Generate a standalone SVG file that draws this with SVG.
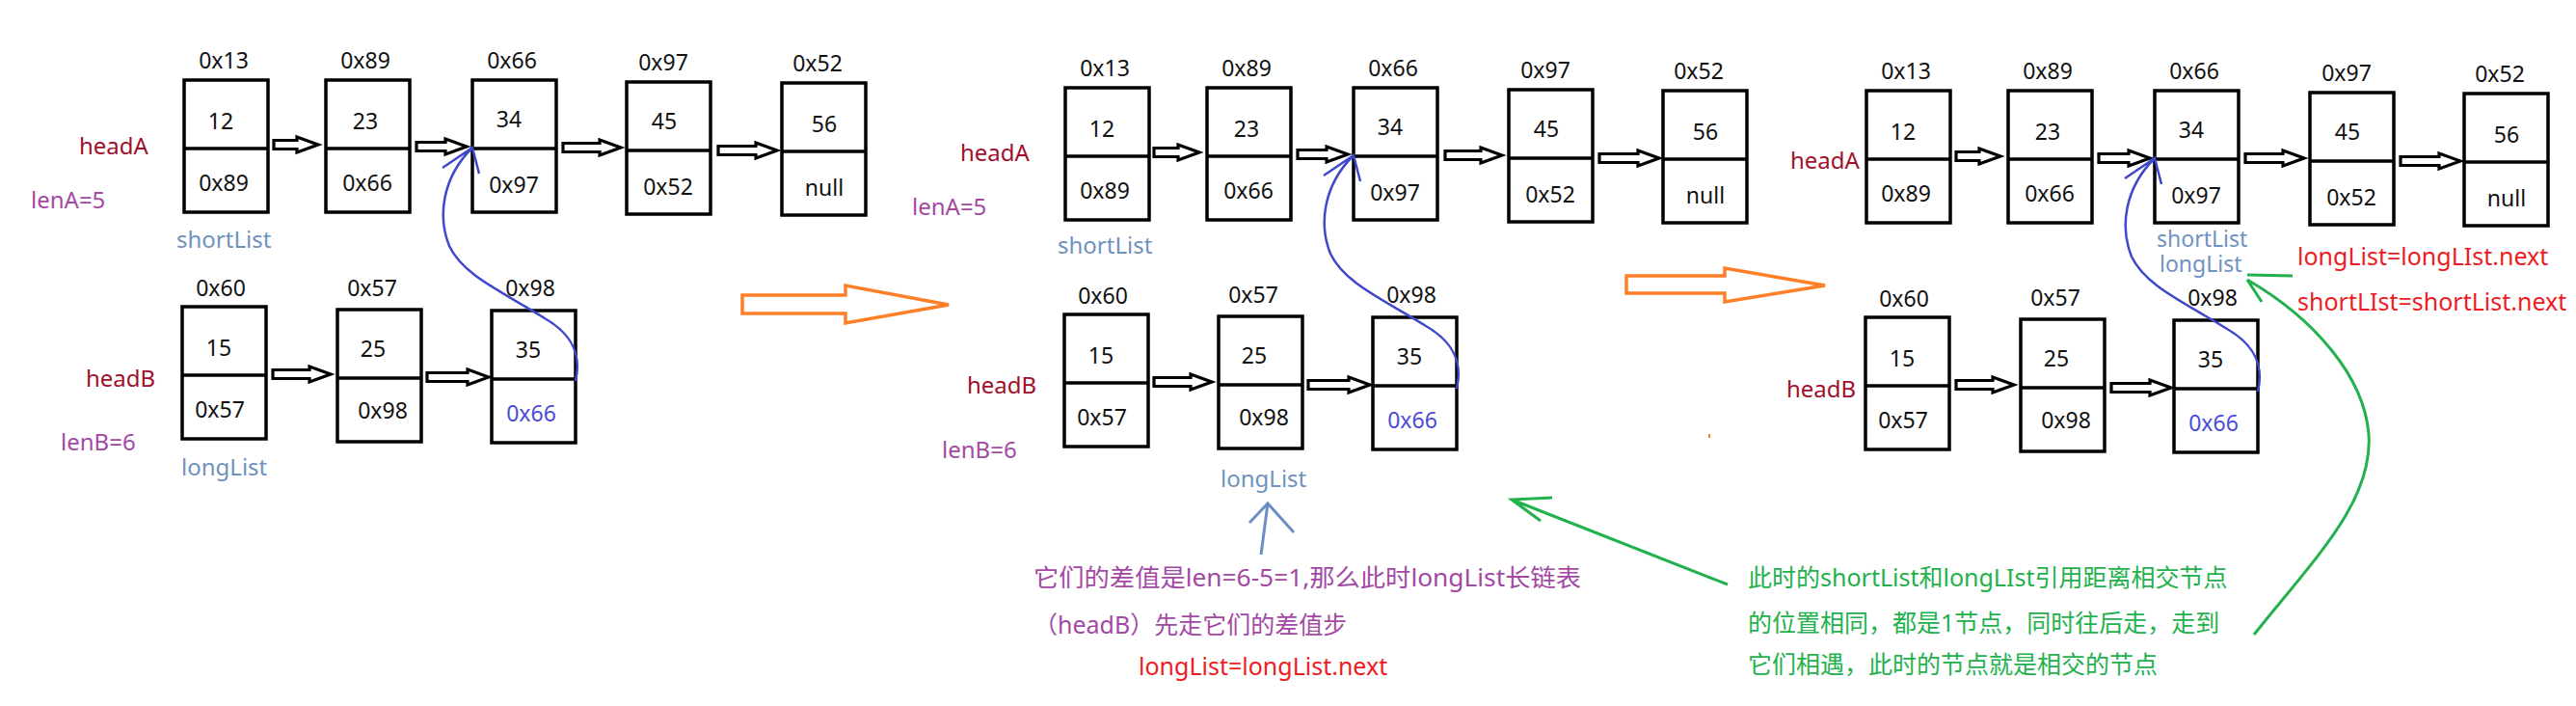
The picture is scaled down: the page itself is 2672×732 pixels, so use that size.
<svg xmlns="http://www.w3.org/2000/svg" width="2672" height="732" viewBox="0 0 2672 732">
<style>
text{font-family:"Noto Sans","Noto Sans CJK SC",sans-serif;font-size:23px;fill:#111}
.c{text-anchor:middle}
.box{fill:#fff;stroke:#000;stroke-width:3.5}
.ha{fill:#fff;stroke:#000;stroke-width:3.2}
.head{fill:#A0102A;font-size:24px}
.len{fill:#A349A4;font-size:24px}
.ptr{fill:#7092BE;font-size:24px}
.ptr2{fill:#7092BE;font-size:23px}
.blue{fill:#4B4BD8}
.red{fill:#ED1C24;font-size:25px}
.pur{fill:#A349A4;font-size:25px}
.grn{fill:#22B14C;font-size:25px}
.bc{fill:none;stroke:#3F48CC;stroke-width:2.5}
.gc{fill:none;stroke:#22B14C;stroke-width:3}
.sc{fill:none;stroke:#6B8FC4;stroke-width:3}
.oa{fill:#fff;stroke:#FF7F27;stroke-width:3.5}
</style>
<defs>
<g id="cell"><rect class="box" x="0" y="0" width="87" height="137"/><line x1="0" y1="71" x2="87" y2="71" stroke="#000" stroke-width="3.5"/></g>
</defs>

<!-- Panel 1 -->
<g id="p1-labels">
<text class="head" x="82" y="160">headA</text>
<text class="len" x="32" y="216">lenA=5</text>
<text class="ptr" x="183" y="257">shortList</text>
<text class="head" x="89" y="401">headB</text>
<text class="len" x="63" y="467">lenB=6</text>
<text class="ptr" x="188" y="493">longList</text>
</g>
<g id="p1-a1" transform="translate(191,83)"><use href="#cell"/><text class="c" x="41" y="-12">0x13</text><text class="c" x="38" y="51">12</text><text class="c" x="41" y="115">0x89</text></g>
<g id="p1-a2" transform="translate(338,83)"><use href="#cell"/><text class="c" x="41" y="-12">0x89</text><text class="c" x="41" y="51">23</text><text class="c" x="43" y="115">0x66</text></g>
<g id="p1-a3" transform="translate(490,83)"><use href="#cell"/><text class="c" x="41" y="-12">0x66</text><text class="c" x="38" y="49">34</text><text class="c" x="43" y="117">0x97</text></g>
<g id="p1-a4" transform="translate(650,85)"><use href="#cell"/><text class="c" x="38" y="-12">0x97</text><text class="c" x="39" y="49">45</text><text class="c" x="43" y="117">0x52</text></g>
<g id="p1-a5" transform="translate(811,86)"><use href="#cell"/><text class="c" x="37" y="-12">0x52</text><text class="c" x="44" y="51">56</text><text class="c" x="44" y="117">null</text></g>
<g id="p1-b1" transform="translate(189,318)"><use href="#cell"/><text class="c" x="40" y="-11">0x60</text><text class="c" x="38" y="51">15</text><text class="c" x="39" y="115">0x57</text></g>
<g id="p1-b2" transform="translate(350,321)"><use href="#cell"/><text class="c" x="36" y="-14">0x57</text><text class="c" x="37" y="49">25</text><text class="c" x="47" y="113">0x98</text></g>
<g id="p1-b3" transform="translate(510,322)"><use href="#cell"/><text class="c" x="40" y="-15">0x98</text><text class="c" x="38" y="49">35</text><text class="c blue" x="41" y="115">0x66</text></g>

<!-- Panel 2 -->
<g id="p2-labels">
<text class="head" x="996" y="167">headA</text>
<text class="len" x="946" y="223">lenA=5</text>
<text class="ptr" x="1097" y="263">shortList</text>
<text class="head" x="1003" y="408">headB</text>
<text class="len" x="977" y="475">lenB=6</text>
<text class="ptr" x="1266" y="505">longList</text>
</g>
<g id="p2-a1" transform="translate(1105,91)"><use href="#cell"/><text class="c" x="41" y="-12">0x13</text><text class="c" x="38" y="51">12</text><text class="c" x="41" y="115">0x89</text></g>
<g id="p2-a2" transform="translate(1252,91)"><use href="#cell"/><text class="c" x="41" y="-12">0x89</text><text class="c" x="41" y="51">23</text><text class="c" x="43" y="115">0x66</text></g>
<g id="p2-a3" transform="translate(1404,91)"><use href="#cell"/><text class="c" x="41" y="-12">0x66</text><text class="c" x="38" y="49">34</text><text class="c" x="43" y="117">0x97</text></g>
<g id="p2-a4" transform="translate(1565,93)"><use href="#cell"/><text class="c" x="38" y="-12">0x97</text><text class="c" x="39" y="49">45</text><text class="c" x="43" y="117">0x52</text></g>
<g id="p2-a5" transform="translate(1725,94)"><use href="#cell"/><text class="c" x="37" y="-12">0x52</text><text class="c" x="44" y="51">56</text><text class="c" x="44" y="117">null</text></g>
<g id="p2-b1" transform="translate(1104,326)"><use href="#cell"/><text class="c" x="40" y="-11">0x60</text><text class="c" x="38" y="51">15</text><text class="c" x="39" y="115">0x57</text></g>
<g id="p2-b2" transform="translate(1264,328)"><use href="#cell"/><text class="c" x="36" y="-14">0x57</text><text class="c" x="37" y="49">25</text><text class="c" x="47" y="113">0x98</text></g>
<g id="p2-b3" transform="translate(1424,329)"><use href="#cell"/><text class="c" x="40" y="-15">0x98</text><text class="c" x="38" y="49">35</text><text class="c blue" x="41" y="115">0x66</text></g>
<g id="p2-notes">
<text class="pur" x="1072" y="608" textLength="568" lengthAdjust="spacingAndGlyphs">它们的差值是len=6-5=1,那么此时longList长链表</text>
<text class="pur" x="1072" y="657">（headB）先走它们的差值步</text>
<text class="red" x="1181" y="700">longList=longList.next</text>
<text class="grn" x="1813" y="608">此时的shortList和longLIst引用距离相交节点</text>
<text class="grn" x="1813" y="655">的位置相同，都是1节点，同时往后走，走到</text>
<text class="grn" x="1813" y="698">它们相遇，此时的节点就是相交的节点</text>
</g>

<!-- Panel 3 -->
<g id="p3-labels">
<text class="head" x="1857" y="175">headA</text>
<text class="ptr2" x="2237" y="256">shortList</text>
<text class="ptr2" x="2240" y="282">longList</text>
<text class="head" x="1853" y="412">headB</text>
<text class="red" x="2383" y="275">longList=longLIst.next</text>
<text class="red" x="2383" y="322">shortLIst=shortList.next</text>
</g>
<g id="p3-a1" transform="translate(1936,94)"><use href="#cell"/><text class="c" x="41" y="-12">0x13</text><text class="c" x="38" y="51">12</text><text class="c" x="41" y="115">0x89</text></g>
<g id="p3-a2" transform="translate(2083,94)"><use href="#cell"/><text class="c" x="41" y="-12">0x89</text><text class="c" x="41" y="51">23</text><text class="c" x="43" y="115">0x66</text></g>
<g id="p3-a3" transform="translate(2235,94)"><use href="#cell"/><text class="c" x="41" y="-12">0x66</text><text class="c" x="38" y="49">34</text><text class="c" x="43" y="117">0x97</text></g>
<g id="p3-a4" transform="translate(2396,96)"><use href="#cell"/><text class="c" x="38" y="-12">0x97</text><text class="c" x="39" y="49">45</text><text class="c" x="43" y="117">0x52</text></g>
<g id="p3-a5" transform="translate(2556,97)"><use href="#cell"/><text class="c" x="37" y="-12">0x52</text><text class="c" x="44" y="51">56</text><text class="c" x="44" y="117">null</text></g>
<g id="p3-b1" transform="translate(1935,329)"><use href="#cell"/><text class="c" x="40" y="-11">0x60</text><text class="c" x="38" y="51">15</text><text class="c" x="39" y="115">0x57</text></g>
<g id="p3-b2" transform="translate(2096,331)"><use href="#cell"/><text class="c" x="36" y="-14">0x57</text><text class="c" x="37" y="49">25</text><text class="c" x="47" y="113">0x98</text></g>
<g id="p3-b3" transform="translate(2255,332)"><use href="#cell"/><text class="c" x="40" y="-15">0x98</text><text class="c" x="38" y="49">35</text><text class="c blue" x="41" y="115">0x66</text></g>

<g id="connectors">
<!-- hollow arrows panel 1 -->
<polygon class="ha" points="284,145.5 308,145.5 308,142 330,150 308,158 308,154.5 284,154.5"/>
<polygon class="ha" points="432,147.5 462,147.5 462,144 484,152 462,160 462,156.5 432,156.5"/>
<polygon class="ha" points="584,148.5 622,148.5 622,145 644,153 622,161 622,157.5 584,157.5"/>
<polygon class="ha" points="745,151.5 784,151.5 784,148 806,156 784,164 784,160.5 745,160.5"/>
<polygon class="ha" points="283,383.5 321,383.5 321,380 343,388 321,396 321,392.5 283,392.5"/>
<polygon class="ha" points="443,386.5 485,386.5 485,383 507,391 485,399 485,395.5 443,395.5"/>
<!-- panel 2 -->
<polygon class="ha" points="1197,153.5 1222,153.5 1222,150 1244,158 1222,166 1222,162.5 1197,162.5"/>
<polygon class="ha" points="1346,155.5 1376,155.5 1376,152 1398,160 1376,168 1376,164.5 1346,164.5"/>
<polygon class="ha" points="1499,156.5 1536,156.5 1536,153 1558,161 1536,169 1536,165.5 1499,165.5"/>
<polygon class="ha" points="1659,159.5 1699,159.5 1699,156 1721,164 1699,172 1699,168.5 1659,168.5"/>
<polygon class="ha" points="1197,391.5 1235,391.5 1235,388 1257,396 1235,404 1235,400.5 1197,400.5"/>
<polygon class="ha" points="1357,394.5 1399,394.5 1399,391 1421,399 1399,407 1399,403.5 1357,403.5"/>
<!-- panel 3 -->
<polygon class="ha" points="2029,157.5 2053,157.5 2053,154 2075,162 2053,170 2053,166.5 2029,166.5"/>
<polygon class="ha" points="2177,159.5 2208,159.5 2208,156 2230,164 2208,172 2208,168.5 2177,168.5"/>
<polygon class="ha" points="2329,159.5 2368,159.5 2368,156 2390,164 2368,172 2368,168.5 2329,168.5"/>
<polygon class="ha" points="2490,162.5 2530,162.5 2530,159 2552,167 2530,175 2530,171.5 2490,171.5"/>
<polygon class="ha" points="2029,394.5 2067,394.5 2067,391 2089,399 2067,407 2067,403.5 2029,403.5"/>
<polygon class="ha" points="2190,397.5 2230,397.5 2230,394 2252,402 2230,410 2230,406.5 2190,406.5"/>
<!-- blue curves -->
<path class="bc" d="M597,395 C603,370 596,348 565,330 C520,302 480,285 466,255 C454,225 458,185 490,153 M459,174 L490,153 L497,180"/>
<path class="bc" transform="translate(914,8)" d="M597,395 C603,370 596,348 565,330 C520,302 480,285 466,255 C454,225 458,185 490,153 M459,174 L490,153 L497,180"/>
<path class="bc" transform="translate(1745,11)" d="M597,395 C603,370 596,348 565,330 C520,302 480,285 466,255 C454,225 458,185 490,153 M459,174 L490,153 L497,180"/>
<!-- orange arrows -->
<polygon class="oa" points="770,306 877,306 877,296 984,316 877,335 877,325 770,325"/>
<polygon class="oa" points="1687,286 1789,286 1789,278 1893,296 1789,313 1789,304 1687,304"/>
<rect x="1772" y="450" width="2" height="4" fill="#FF7F27"/>
<!-- steel blue arrow -->
<path class="sc" d="M1308,575 L1315,522 M1296,542 L1315,522 L1342,552"/>
<!-- green arrows -->
<path class="gc" d="M1792,606 L1568,518 M1610,516 L1568,518 L1598,540"/>
<path class="gc" d="M2338,658 C2400,580 2462,520 2457,450 C2452,390 2400,330 2331,290 M2378,286 L2331,285 M2331,290 L2346,313"/>
</g>
</svg>
